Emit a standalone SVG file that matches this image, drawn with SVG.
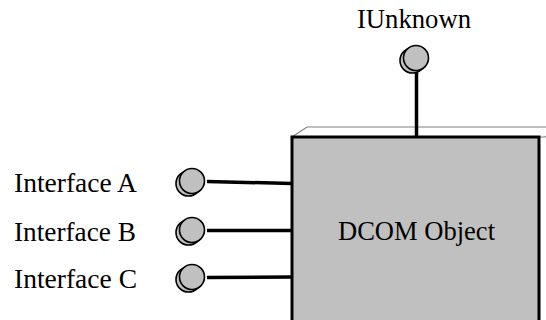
<svg xmlns="http://www.w3.org/2000/svg" width="546" height="320" viewBox="0 0 546 320">
<defs>
<style>
.t{font-family:"Liberation Serif","Times New Roman",serif;font-size:27px;fill:#000}
.bulb{fill:#c0c0c0;stroke:#000;stroke-width:1.6}
.wire{stroke:#000;stroke-width:3.5;fill:none;stroke-linecap:butt}
</style>
<g id="bulbShape">
<circle class="bulb" cx="-3.5" cy="2.5" r="12.5"/>
<circle class="bulb" cx="0" cy="0" r="12.5"/>
</g>
</defs>
<rect width="546" height="320" fill="#fff"/>
<g id="dcom">
<polygon points="292,137 307,127 560,127 545,137" fill="#fff" stroke="#808080" stroke-width="1.2"/>
<rect x="292" y="137" width="247" height="200" fill="#c0c0c0" stroke="#000" stroke-width="3"/>
<text class="t" x="338" y="240" textLength="157" lengthAdjust="spacingAndGlyphs">DCOM Object</text>
</g>
<g id="connectors">
<line class="wire" x1="416.5" y1="73" x2="416.5" y2="137"/>
<line class="wire" x1="207" y1="181.5" x2="292" y2="183.5"/>
<line class="wire" x1="207" y1="230.5" x2="292" y2="230.5"/>
<line class="wire" x1="207" y1="277.5" x2="292" y2="277"/>
</g>
<g id="iunknown">
<use href="#bulbShape" x="416" y="58"/>
<text class="t" x="357" y="28" textLength="114" lengthAdjust="spacingAndGlyphs">IUnknown</text>
</g>
<g id="ifaceA">
<use href="#bulbShape" x="192" y="181"/>
<text class="t" x="14" y="192" textLength="123" lengthAdjust="spacingAndGlyphs">Interface A</text>
</g>
<g id="ifaceB">
<use href="#bulbShape" x="192" y="230"/>
<text class="t" x="14" y="241" textLength="122" lengthAdjust="spacingAndGlyphs">Interface B</text>
</g>
<g id="ifaceC">
<use href="#bulbShape" x="192" y="277"/>
<text class="t" x="14" y="288" textLength="123" lengthAdjust="spacingAndGlyphs">Interface C</text>
</g>
</svg>
